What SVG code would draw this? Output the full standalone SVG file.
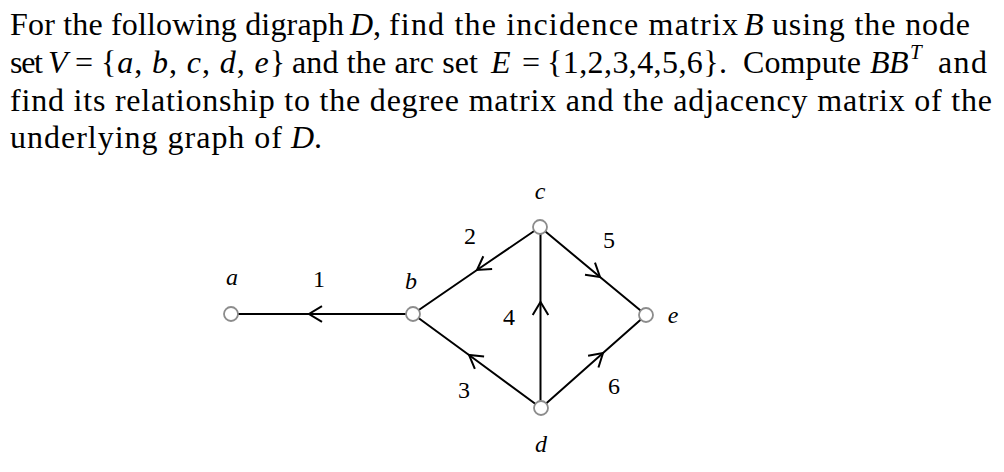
<svg xmlns="http://www.w3.org/2000/svg" width="1004" height="472" viewBox="0 0 1004 472">
<defs>
<style>
.t{font-family:"Liberation Serif",serif;font-size:32px;fill:#000}
.i{font-style:italic}
.lbl{font-family:"Liberation Serif",serif;font-size:24px;fill:#000;text-anchor:middle}
.node circle{fill:#fff;stroke:#8c8c8c;stroke-width:1.8}
.edge{stroke:#000;stroke-width:2;fill:none;marker-mid:url(#chev)}
</style>
<marker id="chev" markerUnits="userSpaceOnUse" markerWidth="20" markerHeight="20" viewBox="-16 -10 20 20" refX="0" refY="0" orient="auto" overflow="visible">
<path d="M-13,-7.8 L0,0 L-13,7.8" fill="none" stroke="#000" stroke-width="2"/>
</marker>
</defs>
<rect width="1004" height="472" fill="#fff"/>
<g id="question">
<text class="t" y="35"><tspan x="10" textLength="334">For the following digraph</tspan><tspan class="i" x="350">D</tspan><tspan>,</tspan><tspan x="389" textLength="349">find the incidence matrix</tspan><tspan class="i" x="744">B</tspan><tspan x="772" textLength="198">using the node</tspan></text>
<text class="t" y="73"><tspan x="10" textLength="33">set</tspan><tspan class="i" x="48">V</tspan><tspan x="75" textLength="19">=</tspan><tspan x="101" textLength="184">{<tspan class="i">a</tspan>, <tspan class="i">b</tspan>, <tspan class="i">c</tspan>, <tspan class="i">d</tspan>, <tspan class="i">e</tspan>}</tspan><tspan x="292" textLength="186">and the arc set</tspan><tspan class="i" x="491">E</tspan><tspan x="522" textLength="18">=</tspan><tspan x="547" textLength="180">{1,2,3,4,5,6}.</tspan><tspan x="743" textLength="118">Compute</tspan><tspan class="i" x="870">B</tspan><tspan class="i" x="889">B</tspan><tspan class="i" x="910" y="59" font-size="21">T</tspan><tspan x="938" y="73" textLength="49">and</tspan></text>
<text class="t" y="111" x="10" textLength="982">find its relationship to the degree matrix and the adjacency matrix of the</text>
<text class="t" y="148"><tspan x="10" textLength="272">underlying graph of</tspan><tspan class="i" x="291">D</tspan><tspan>.</tspan></text>
</g>
<g id="connectors">
<path id="arc1" class="edge" d="M413,314 L309,314 L231,314"/>
<path id="arc2" class="edge" d="M540,227 L477,270 L413,314"/>
<path id="arc3" class="edge" d="M541,408 L469,355 L413,314"/>
<path id="arc4" class="edge" d="M540.5,408 L540.5,302 L540.5,227"/>
<path id="arc5" class="edge" d="M540,227 L600,277 L646,315"/>
<path id="arc6" class="edge" d="M541,408 L603,353 L646,315"/>
<text class="lbl" x="319" y="287">1</text>
<text class="lbl" x="470" y="244">2</text>
<text class="lbl" x="464" y="398">3</text>
<text class="lbl" x="509" y="325">4</text>
<text class="lbl" x="609" y="248">5</text>
<text class="lbl" x="614" y="394">6</text>
</g>
<g id="node-a" class="node"><circle cx="231" cy="314" r="7"/><text class="lbl i" x="232" y="285" font-size="25">a</text></g>
<g id="node-b" class="node"><circle cx="413" cy="314" r="7"/><text class="lbl i" x="411" y="289" font-size="25">b</text></g>
<g id="node-c" class="node"><circle cx="540" cy="227" r="7"/><text class="lbl i" x="540" y="199" font-size="25">c</text></g>
<g id="node-d" class="node"><circle cx="541" cy="408" r="7"/><text class="lbl i" x="541" y="452" font-size="25">d</text></g>
<g id="node-e" class="node"><circle cx="646" cy="315" r="7"/><text class="lbl i" x="673" y="323" font-size="25">e</text></g>
</svg>
